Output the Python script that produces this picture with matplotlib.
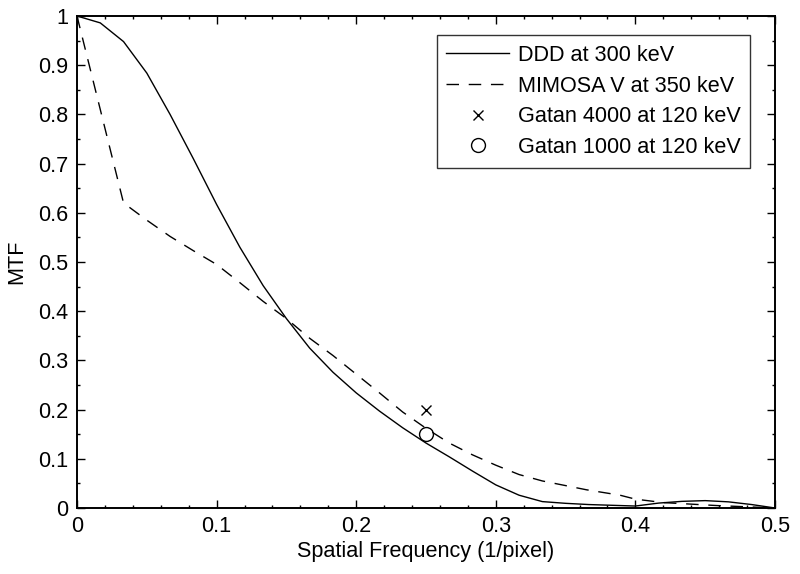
import numpy as np
import matplotlib
matplotlib.use("Agg")
import matplotlib.pyplot as plt

plt.rcParams['font.family'] = ['Liberation Sans', 'DejaVu Sans']

# DDD at 300 keV (sampled every 1/60 cycles/pixel)
ddd_x = [0, 1/60, 2/60, 3/60, 4/60, 5/60, 6/60, 7/60, 8/60, 9/60, 10/60,
         11/60, 12/60, 13/60, 14/60, 15/60, 16/60, 17/60, 18/60, 19/60, 20/60,
         21/60, 22/60, 23/60, 24/60, 25/60, 26/60, 27/60, 28/60, 29/60, 30/60]
ddd_y = [1.0, 0.986, 0.948, 0.884, 0.80, 0.710, 0.617, 0.530, 0.452, 0.385, 0.325,
         0.276, 0.234, 0.197, 0.163, 0.132, 0.104, 0.075, 0.047, 0.026, 0.013,
         0.0095, 0.007, 0.0055, 0.004, 0.010, 0.0135, 0.015, 0.0125, 0.007, 0.0]

# MIMOSA V at 350 keV
mim_x = [0, 2/60, 3/60, 4/60, 5/60, 6/60, 7/60, 8/60, 9/60, 10/60,
         11/60, 12/60, 13/60, 14/60, 15/60, 16/60, 17/60, 18/60, 19/60, 20/60,
         0.365, 0.389, 0.40, 0.42, 0.458, 0.5]
mim_y = [1.0, 0.62, 0.585, 0.552, 0.523, 0.495, 0.458, 0.420, 0.385, 0.345,
         0.31, 0.272, 0.234, 0.195, 0.162, 0.132, 0.108, 0.087, 0.068, 0.055,
         0.037, 0.026, 0.018, 0.011, 0.005, 0.0]

# Single-point measurements
g4000_x, g4000_y = [0.25], [0.20]
g1000_x, g1000_y = [0.25], [0.15]

labels = ['DDD at 300 keV', 'MIMOSA V at 350 keV',
          'Gatan 4000 at 120 keV', 'Gatan 1000 at 120 keV']
xticks = [0, 0.1, 0.2, 0.3, 0.4, 0.5]
xticklabels = ['0', '0.1', '0.2', '0.3', '0.4', '0.5']
yticks = [0, 0.1, 0.2, 0.3, 0.4, 0.5, 0.6, 0.7, 0.8, 0.9, 1]
yticklabels = ['0', '0.1', '0.2', '0.3', '0.4', '0.5', '0.6', '0.7', '0.8', '0.9', '1']

FS = 15.6

fig = plt.figure(figsize=(8, 5.74), dpi=100)
ax = fig.add_axes([77/800, 1-508/574, 698/800, 492/574])

ax.plot(ddd_x, ddd_y, color='black', lw=1.0, label=labels[0])
ax.plot(mim_x, mim_y, color='black', lw=1.0, dashes=(9, 7), label=labels[1])
ax.plot(g4000_x, g4000_y, 'x', color='black', ms=7, mew=1.0, label=labels[2])
ax.plot(g1000_x, g1000_y, 'o', mfc='none', mec='black', ms=10, mew=1.0, label=labels[3])

ax.set_xlim(0, 0.5)
ax.set_ylim(0, 1)
ax.set_xticks(xticks)
ax.set_xticklabels(xticklabels)
ax.set_yticks(yticks)
ax.set_yticklabels(yticklabels)
ax.set_xticks(np.arange(0, 0.5001, 0.02), minor=True)
ax.set_yticks(np.arange(0, 1.0001, 0.05), minor=True)
ax.tick_params(which='both', direction='in', top=True, right=True, width=1.0,
               labelsize=FS)
ax.tick_params(which='major', length=5.5, pad=6)
ax.tick_params(which='minor', length=2.5)
for s in ax.spines.values():
    s.set_linewidth(1.4)

ax.set_xlabel('Spatial Frequency (1/pixel)', fontsize=FS, labelpad=3)
ax.set_ylabel('MTF', fontsize=FS, labelpad=8)

leg = ax.legend(loc='upper right', bbox_to_anchor=((750-77)/698, (508-35)/492),
                borderaxespad=0, fontsize=FS, frameon=True, fancybox=False,
                edgecolor='black', handlelength=2.9, handletextpad=0.38,
                labelspacing=0.45, borderpad=0.45)
leg.get_frame().set_linewidth(1.0)

fig.savefig('out.png', dpi=100)
